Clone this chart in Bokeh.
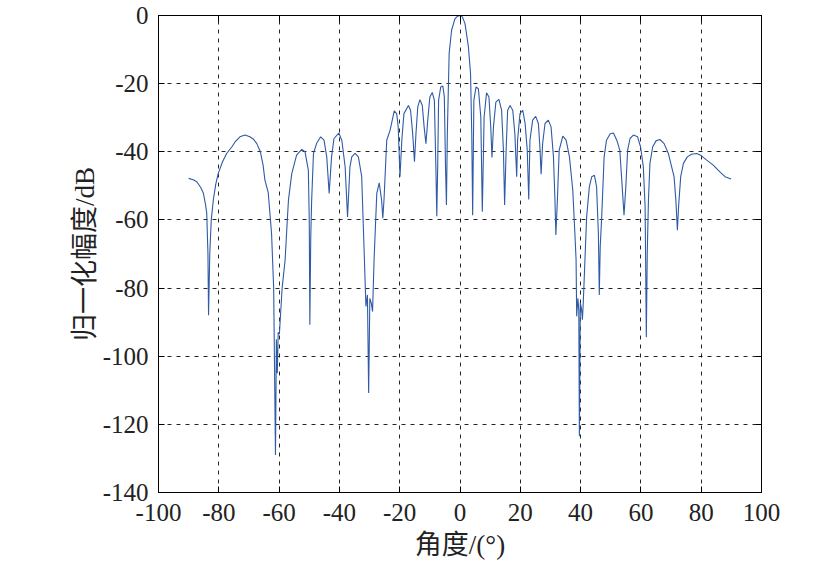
from bokeh.plotting import figure
from bokeh.models import LinearAxis, FixedTicker, Range1d, CustomLabelingPolicy
from bokeh.embed import file_html
from bokeh.resources import INLINE

# ---- data ----
angle = [
    -90.0, -88.5, -87.3, -86.0, -85.1, -84.4, -84.0, -83.6, -83.4, -83.0,
    -82.5, -81.8, -81.0, -80.2, -78.8, -77.4, -75.7, -74.5, -73.0, -71.3,
    -69.7, -68.5, -67.4, -66.2, -65.3, -64.7, -63.6, -62.5, -61.8, -61.2,
    -60.9, -60.6, -60.3, -59.9, -59.0, -58.0, -57.4, -56.9, -55.8, -54.2,
    -52.5, -51.4, -50.3, -50.0, -49.8, -49.5, -49.2, -48.6, -47.5, -46.2,
    -45.1, -44.2, -43.4, -42.6, -41.8, -40.2, -39.2, -38.1, -37.3, -36.5,
    -35.9, -34.8, -33.7, -32.6, -31.7, -31.2, -30.7, -30.3, -29.9, -29.4,
    -29.0, -28.5, -27.6, -26.8, -26.0, -25.6, -25.2, -24.3, -23.2, -21.8,
    -21.0, -20.5, -19.9, -19.3, -18.6, -17.1, -16.4, -15.7, -15.1, -14.6,
    -14.0, -13.3, -12.5, -11.9, -11.3, -10.7, -10.0, -9.2, -8.5, -8.0,
    -7.7, -7.4, -7.1, -6.4, -5.7, -5.2, -4.8, -4.5, -4.2, -3.6,
    -2.8, -1.7, -0.8, 0.0, 0.8, 1.66, 2.8, 3.5, 3.9, 4.2,
    4.6, 5.3, 6.1, 6.9, 7.4, 8.0, 8.8, 9.6, 10.2, 10.6,
    11.1, 11.9, 12.9, 13.8, 14.4, 14.8, 15.3, 15.8, 16.6, 17.5,
    18.2, 18.8, 19.1, 19.9, 20.8, 21.6, 22.3, 22.8, 23.2, 24.1,
    25.1, 26.0, 26.5, 26.9, 27.4, 28.2, 29.3, 30.2, 31.0, 31.5,
    31.8, 32.3, 32.9, 34.1, 35.2, 36.3, 37.4, 38.1, 38.5, 38.7,
    39.1, 39.4, 39.6, 39.9, 40.3, 40.6, 40.9, 41.3, 41.7, 42.0,
    42.9, 43.7, 44.6, 45.3, 45.9, 46.2, 46.5, 47.0, 47.8, 48.6,
    49.8, 50.9, 52.0, 53.0, 53.8, 54.4, 55.0, 55.6, 56.4, 57.5,
    58.9, 59.9, 60.8, 61.4, 61.8, 62.1, 62.5, 63.0, 63.9, 65.0,
    66.3, 67.7, 69.1, 70.2, 71.0, 71.6, 72.1, 72.5, 73.2, 74.1,
    75.4, 76.8, 78.5, 79.8, 81.6, 84.0, 86.2, 87.9, 89.9,
]
gain_db = [
    -47.8, -48.2, -48.8, -50.5, -52.2, -55.5, -58.0, -70.0, -88.0, -70.0,
    -60.0, -54.0, -49.5, -46.4, -43.0, -40.5, -38.6, -37.0, -35.6, -35.1,
    -35.6, -36.3, -37.6, -40.0, -44.0, -48.3, -52.0, -64.0, -80.0, -129.0,
    -95.0, -105.0, -93.0, -93.5, -80.0, -71.7, -62.0, -54.2, -46.4, -41.0,
    -39.3, -40.0, -45.4, -60.0, -90.8, -65.0, -54.2, -40.5, -37.4, -35.6,
    -36.6, -41.5, -52.2, -41.5, -36.1, -34.5, -36.6, -44.4, -59.1, -44.4,
    -41.5, -40.5, -41.5, -47.3, -71.7, -85.4, -82.0, -110.8, -83.0, -84.5,
    -86.9, -71.7, -52.2, -49.1, -54.2, -59.5, -54.0, -36.6, -33.7, -28.0,
    -28.8, -32.7, -47.3, -36.6, -28.8, -26.4, -27.8, -34.6, -42.9, -34.6,
    -26.8, -24.7, -26.4, -32.7, -37.6, -30.7, -23.9, -22.6, -24.9, -44.4,
    -58.9, -44.4, -24.9, -21.0, -20.7, -23.9, -44.4, -55.6, -34.6, -11.2,
    -4.4, -1.0, -0.2, 0.0, -0.4, -2.4, -9.3, -17.1, -34.7, -58.6,
    -24.9, -21.0, -21.5, -29.8, -57.6, -29.8, -22.7, -23.9, -32.7, -41.7,
    -32.7, -25.4, -24.6, -27.8, -39.5, -55.6, -39.5, -27.8, -26.4, -27.8,
    -34.7, -47.3, -36.6, -28.8, -27.8, -31.7, -39.5, -54.0, -36.6, -30.7,
    -29.6, -31.7, -38.6, -46.6, -37.6, -31.7, -30.7, -32.7, -41.5, -54.2,
    -64.4, -54.2, -39.5, -35.4, -36.6, -41.5, -51.2, -63.9, -71.7, -88.3,
    -83.0, -86.4, -123.5, -84.4, -86.0, -89.3, -84.0, -75.0, -65.9, -59.1,
    -50.3, -47.3, -46.9, -50.3, -63.9, -82.0, -68.0, -59.1, -41.5, -36.6,
    -34.7, -34.5, -36.6, -39.5, -50.3, -58.6, -50.3, -39.5, -36.1, -35.1,
    -35.6, -38.6, -44.4, -56.1, -94.4, -70.0, -54.2, -43.4, -38.6, -36.8,
    -36.4, -37.6, -40.5, -44.4, -47.3, -54.2, -63.0, -56.1, -47.3, -43.4,
    -41.5, -40.7, -40.5, -41.0, -42.3, -43.9, -45.9, -47.3, -48.0,
]
x_ticks = [-100, -80, -60, -40, -20, 0, 20, 40, 60, 80, 100]
x_tick_labels = ["-100", "-80", "-60", "-40", "-20", "0", "20", "40", "60", "80", "100"]
y_ticks = [0, -20, -40, -60, -80, -100, -120, -140]
y_tick_labels = ["0", "-20", "-40", "-60", "-80", "-100", "-120", "-140"]
x_label = "角度/(°)"
y_label = "归一化幅度/dB"

SERIF = "'Liberation Serif', 'Times New Roman', serif"
CJK = "'Liberation Serif', 'Noto Sans CJK SC', serif"

p = figure(width=821, height=564, output_backend="svg", toolbar_location=None,
           x_range=Range1d(-100, 100), y_range=Range1d(-140, 0),
           min_border_left=158, min_border_right=60,
           min_border_top=15, min_border_bottom=72)
p.background_fill_color = "white"
p.border_fill_color = "white"
p.outline_line_color = "black"
p.outline_line_width = 1

p.line(angle, gain_db, line_color="#2f5aa5", line_width=1.1)

p.xaxis.ticker = FixedTicker(ticks=x_ticks)
p.yaxis.ticker = FixedTicker(ticks=y_ticks)
p.xaxis.major_label_overrides = dict(zip(x_ticks, x_tick_labels))
p.yaxis.major_label_overrides = dict(zip(y_ticks, y_tick_labels))

for ax in (p.xaxis[0], p.yaxis[0]):
    ax.major_label_text_font = SERIF
    ax.major_label_text_font_size = "25px"
    ax.major_label_text_color = "#222222"
    ax.axis_label_text_font = CJK
    ax.axis_label_text_font_size = "27px"
    ax.axis_label_text_font_style = "normal"
    ax.axis_label_text_color = "#222222"
    ax.major_tick_in = 6
    ax.major_tick_out = 0
    ax.minor_tick_line_color = None
    ax.axis_line_color = "black"
    ax.major_tick_line_color = "black"

p.xaxis.axis_label = x_label
p.yaxis.axis_label = y_label
p.xaxis.major_label_standoff = 11
p.yaxis.major_label_standoff = 10
p.xaxis.axis_label_standoff = 6
p.yaxis.axis_label_standoff = 0

no_labels = CustomLabelingPolicy(code="""
const all = [...indices]
for (const i of all) indices.unset(i)
return indices
""")

for side in ("above", "right"):
    ax = LinearAxis(ticker=FixedTicker(ticks=x_ticks if side == "above" else y_ticks))
    ax.major_label_policy = no_labels
    ax.major_label_standoff = 0
    ax.major_tick_in = 6
    ax.major_tick_out = 0
    ax.minor_tick_line_color = None
    ax.axis_line_color = "black"
    ax.major_tick_line_color = "black"
    p.add_layout(ax, side)

p.grid.grid_line_color = "black"
p.grid.grid_line_alpha = 0.85
p.grid.grid_line_dash = "4 5"
p.grid.grid_line_width = 1
p.xgrid.ticker = FixedTicker(ticks=x_ticks)
p.ygrid.ticker = FixedTicker(ticks=y_ticks)

open("out.html", "w").write(file_html(p, INLINE))
